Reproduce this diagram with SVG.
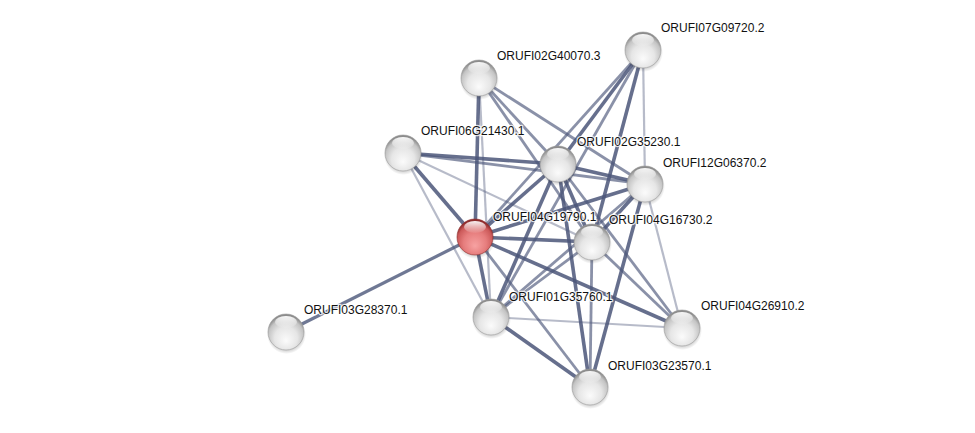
<svg xmlns="http://www.w3.org/2000/svg" width="975" height="433" viewBox="0 0 975 433">
<defs>
<radialGradient id="gGray" cx="50%" cy="62%" r="58%" fx="50%" fy="75%">
<stop offset="0" stop-color="#fbfbfb"/>
<stop offset="0.55" stop-color="#e6e6e6"/>
<stop offset="0.85" stop-color="#c4c4c4"/>
<stop offset="1" stop-color="#8c8c8c"/>
</radialGradient>
<radialGradient id="gRed" cx="50%" cy="62%" r="58%" fx="50%" fy="75%">
<stop offset="0" stop-color="#f7a2a2"/>
<stop offset="0.55" stop-color="#e67d7d"/>
<stop offset="0.85" stop-color="#cc5a5a"/>
<stop offset="1" stop-color="#8e2b2b"/>
</radialGradient>
<linearGradient id="gHi" x1="0" y1="0" x2="0" y2="1">
<stop offset="0" stop-color="#ffffff" stop-opacity="0.95"/>
<stop offset="1" stop-color="#ffffff" stop-opacity="0.05"/>
</linearGradient>
<radialGradient id="gShadow" cx="50%" cy="50%" r="50%">
<stop offset="0.6" stop-color="#000" stop-opacity="0.35"/>
<stop offset="1" stop-color="#000" stop-opacity="0"/>
</radialGradient>
<g id="sphere">
<circle cx="0.5" cy="2.5" r="19.5" fill="url(#gShadow)"/>
<circle r="18" fill="url(#gGray)" stroke="#9a9a9a" stroke-width="0.6"/>
<ellipse cx="0" cy="-10" rx="11" ry="6" fill="url(#gHi)"/>
</g>
<g id="sphereRed">
<circle cx="0.5" cy="2.5" r="19.5" fill="url(#gShadow)"/>
<circle r="18" fill="url(#gRed)" stroke="#8e3030" stroke-width="0.6"/>
<ellipse cx="0" cy="-10" rx="11" ry="6" fill="url(#gHi)"/>
</g>
</defs>
<style>
.e{stroke:#4b5679;stroke-linecap:butt;fill:none}
.t{stroke-width:3.6;stroke-opacity:0.85}
.m{stroke-width:2.8;stroke-opacity:0.65}
.l{stroke-width:2.2;stroke-opacity:0.4}
.lbl{font-family:"Liberation Sans",Arial,sans-serif;font-size:12px;fill:#111;stroke:#fff;stroke-width:2.5;stroke-opacity:0.8;paint-order:stroke;stroke-linejoin:round}
</style>
<rect width="975" height="433" fill="#fff"/>
<g id="edges" class="e">
<line class="e t" x1="475" y1="237" x2="286" y2="332" style="stroke-width:3.2;stroke-opacity:0.8"/>
<line class="e t" x1="475" y1="237" x2="479" y2="78"/>
<line class="e t" x1="475" y1="237" x2="403" y2="153"/>
<line class="e t" x1="475" y1="237" x2="558" y2="164"/>
<line class="e t" x1="475" y1="237" x2="645" y2="184"/>
<line class="e t" x1="475" y1="237" x2="592" y2="242"/>
<line class="e t" x1="475" y1="237" x2="491" y2="317"/>
<line class="e t" x1="475" y1="237" x2="682" y2="328"/>
<line class="e m" x1="475" y1="237" x2="590" y2="387"/>
<line class="e m" x1="475" y1="237" x2="643" y2="50"/>
<line class="e l" x1="479" y1="78" x2="491" y2="317"/>
<line class="e m" x1="479" y1="78" x2="558" y2="164"/>
<line class="e m" x1="479" y1="78" x2="592" y2="242"/>
<line class="e m" x1="479" y1="78" x2="645" y2="184"/>
<line class="e t" x1="403" y1="153" x2="558" y2="164"/>
<line class="e m" x1="403" y1="153" x2="645" y2="184"/>
<line class="e l" x1="403" y1="153" x2="592" y2="242"/>
<line class="e l" x1="403" y1="153" x2="491" y2="317"/>
<line class="e t" x1="643" y1="50" x2="558" y2="164"/>
<line class="e m" x1="643" y1="50" x2="491" y2="317"/>
<line class="e t" x1="643" y1="50" x2="592" y2="242"/>
<line class="e l" x1="643" y1="50" x2="645" y2="184"/>
<line class="e t" x1="558" y1="164" x2="645" y2="184"/>
<line class="e t" x1="558" y1="164" x2="592" y2="242"/>
<line class="e t" x1="558" y1="164" x2="491" y2="317"/>
<line class="e t" x1="558" y1="164" x2="590" y2="387"/>
<line class="e m" x1="558" y1="164" x2="682" y2="328"/>
<line class="e t" x1="645" y1="184" x2="592" y2="242"/>
<line class="e m" x1="645" y1="184" x2="491" y2="317"/>
<line class="e t" x1="645" y1="184" x2="590" y2="387"/>
<line class="e l" x1="645" y1="184" x2="682" y2="328"/>
<line class="e m" x1="592" y1="242" x2="491" y2="317"/>
<line class="e m" x1="592" y1="242" x2="590" y2="387"/>
<line class="e m" x1="592" y1="242" x2="682" y2="328"/>
<line class="e t" x1="491" y1="317" x2="590" y2="387"/>
<line class="e l" x1="491" y1="317" x2="682" y2="328"/>
</g>
<g id="n07"><use href="#sphere" x="643" y="50"/><text class="lbl" x="661" y="32">ORUFI07G09720.2</text></g>
<g id="n40"><use href="#sphere" x="479" y="78"/><text class="lbl" x="497" y="60">ORUFI02G40070.3</text></g>
<g id="n06"><use href="#sphere" x="403" y="153"/><text class="lbl" x="421" y="135">ORUFI06G21430.1</text></g>
<g id="n35"><use href="#sphere" x="558" y="164"/><text class="lbl" x="577" y="146">ORUFI02G35230.1</text></g>
<g id="n12"><use href="#sphere" x="645" y="184"/><text class="lbl" x="663" y="167">ORUFI12G06370.2</text></g>
<g id="n19"><use href="#sphereRed" x="475" y="237"/><text class="lbl" x="493" y="221">ORUFI04G19790.1</text></g>
<g id="n16"><use href="#sphere" x="592" y="242"/><text class="lbl" x="609" y="224">ORUFI04G16730.2</text></g>
<g id="n01"><use href="#sphere" x="491" y="317"/><text class="lbl" x="509" y="301">ORUFI01G35760.1</text></g>
<g id="n28"><use href="#sphere" x="286" y="332"/><text class="lbl" x="304" y="314">ORUFI03G28370.1</text></g>
<g id="n26"><use href="#sphere" x="682" y="328"/><text class="lbl" x="701" y="310">ORUFI04G26910.2</text></g>
<g id="n23"><use href="#sphere" x="590" y="387"/><text class="lbl" x="608" y="370">ORUFI03G23570.1</text></g>
</svg>
